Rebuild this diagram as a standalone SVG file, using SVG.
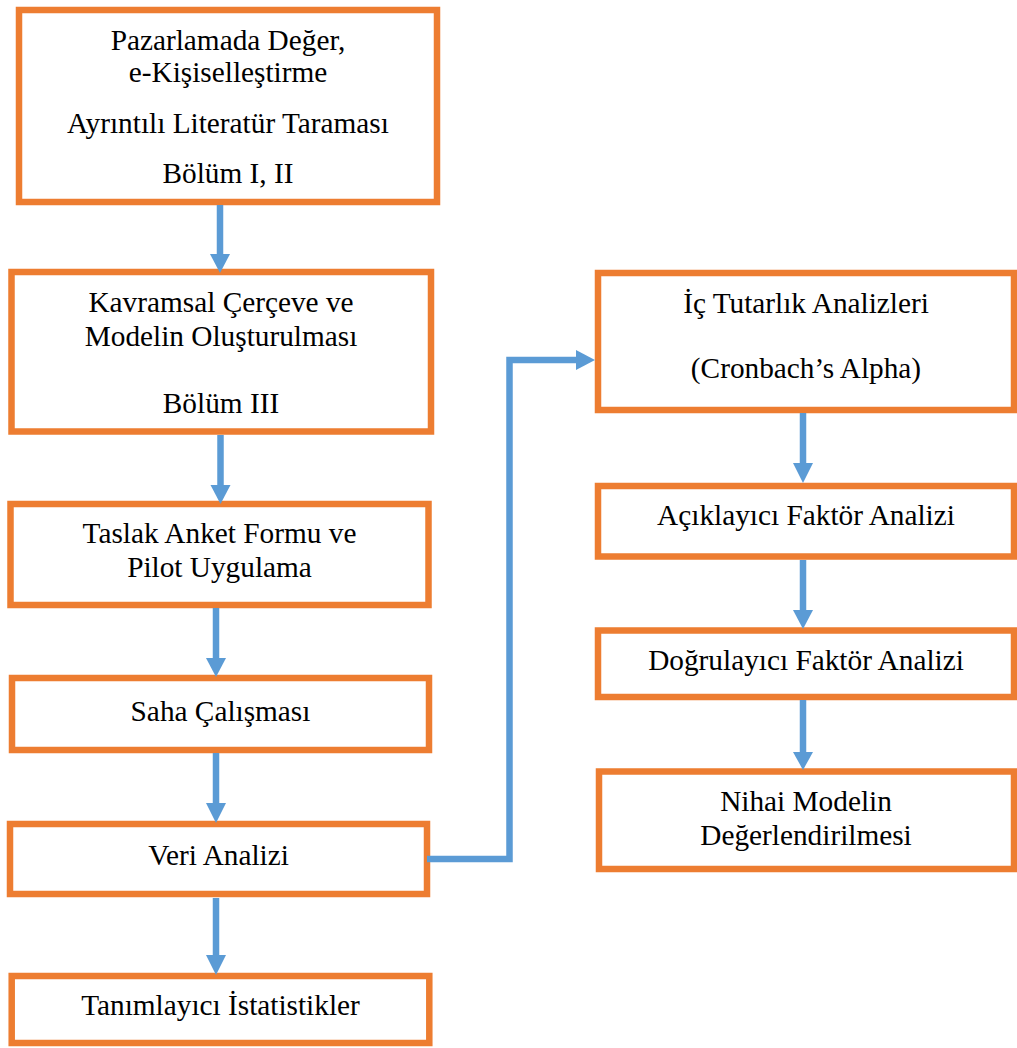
<svg xmlns="http://www.w3.org/2000/svg" width="1017" height="1048" viewBox="0 0 1017 1048">
  <style>
    .box { fill: #FFFFFF; stroke: #ED7D31; stroke-width: 6.5; }
    .lbl { font-family: "Liberation Serif", "Times New Roman", serif; font-size: 29.3px; fill: #000000; text-anchor: middle; }
    .shaft { fill: none; stroke: #5B9BD5; stroke-width: 6.5; }
    .head { fill: #5B9BD5; }
  </style>
  <rect width="1017" height="1048" fill="#FFFFFF"/>

  <!-- left column -->
  <g id="node-literatur">
    <rect class="box" x="19" y="10" width="418" height="192"/>
    <text class="lbl" x="228" y="50">Pazarlamada Değer,</text>
    <text class="lbl" x="228" y="82">e-Kişiselleştirme</text>
    <text class="lbl" x="228" y="133">Ayrıntılı Literatür Taraması</text>
    <text class="lbl" x="228" y="183">Bölüm I, II</text>
  </g>
  <g id="node-kavramsal">
    <rect class="box" x="11.5" y="272" width="419.5" height="159.5"/>
    <text class="lbl" x="221" y="312">Kavramsal Çerçeve ve</text>
    <text class="lbl" x="221" y="346">Modelin Oluşturulması</text>
    <text class="lbl" x="221" y="413">Bölüm III</text>
  </g>
  <g id="node-taslak">
    <rect class="box" x="10.5" y="504" width="418" height="101"/>
    <text class="lbl" x="219.5" y="543">Taslak Anket Formu ve</text>
    <text class="lbl" x="219.5" y="577">Pilot Uygulama</text>
  </g>
  <g id="node-saha">
    <rect class="box" x="12" y="678" width="417" height="72"/>
    <text class="lbl" x="220.5" y="721">Saha Çalışması</text>
  </g>
  <g id="node-veri">
    <rect class="box" x="10" y="824" width="417" height="70"/>
    <text class="lbl" x="218.5" y="865">Veri Analizi</text>
  </g>
  <g id="node-tanimlayici">
    <rect class="box" x="11.7" y="976" width="417.6" height="67"/>
    <text class="lbl" x="220.5" y="1015">Tanımlayıcı İstatistikler</text>
  </g>

  <!-- right column -->
  <g id="node-ic-tutarlik">
    <rect class="box" x="598" y="273" width="416" height="137"/>
    <text class="lbl" x="806" y="313">İç Tutarlık Analizleri</text>
    <text class="lbl" x="806" y="378">(Cronbach’s Alpha)</text>
  </g>
  <g id="node-aciklayici">
    <rect class="box" x="598" y="486" width="416" height="70.5"/>
    <text class="lbl" x="806" y="525">Açıklayıcı Faktör Analizi</text>
  </g>
  <g id="node-dogrulayici">
    <rect class="box" x="598" y="630.5" width="416" height="66.5"/>
    <text class="lbl" x="806" y="670">Doğrulayıcı Faktör Analizi</text>
  </g>
  <g id="node-nihai">
    <rect class="box" x="599" y="771.5" width="415" height="97.5"/>
    <text class="lbl" x="806" y="811">Nihai Modelin</text>
    <text class="lbl" x="806" y="845">Değerlendirilmesi</text>
  </g>

  <!-- connectors -->
  <g id="connectors">
    <line class="shaft" x1="220" y1="205" x2="220" y2="255"/>
    <polygon class="head" points="210,254 230,254 220,273"/>

    <line class="shaft" x1="220.5" y1="435" x2="220.5" y2="486"/>
    <polygon class="head" points="210.5,485 230.5,485 220.5,504"/>

    <line class="shaft" x1="216" y1="608" x2="216" y2="659"/>
    <polygon class="head" points="206,658 226,658 216,677"/>

    <line class="shaft" x1="216" y1="753" x2="216" y2="804"/>
    <polygon class="head" points="206,803 226,803 216,823"/>

    <line class="shaft" x1="216" y1="898" x2="216" y2="956"/>
    <polygon class="head" points="206,955 226,955 216,975"/>

    <path class="shaft" d="M427 859 H509.5 V360 H577"/>
    <polygon class="head" points="576,350 576,370 595,360"/>

    <line class="shaft" x1="803" y1="413" x2="803" y2="464"/>
    <polygon class="head" points="793,463 813,463 803,483"/>

    <line class="shaft" x1="803" y1="560" x2="803" y2="611"/>
    <polygon class="head" points="793,610 813,610 803,629"/>

    <line class="shaft" x1="803" y1="700" x2="803" y2="753"/>
    <polygon class="head" points="793,752 813,752 803,770"/>
  </g>
</svg>
